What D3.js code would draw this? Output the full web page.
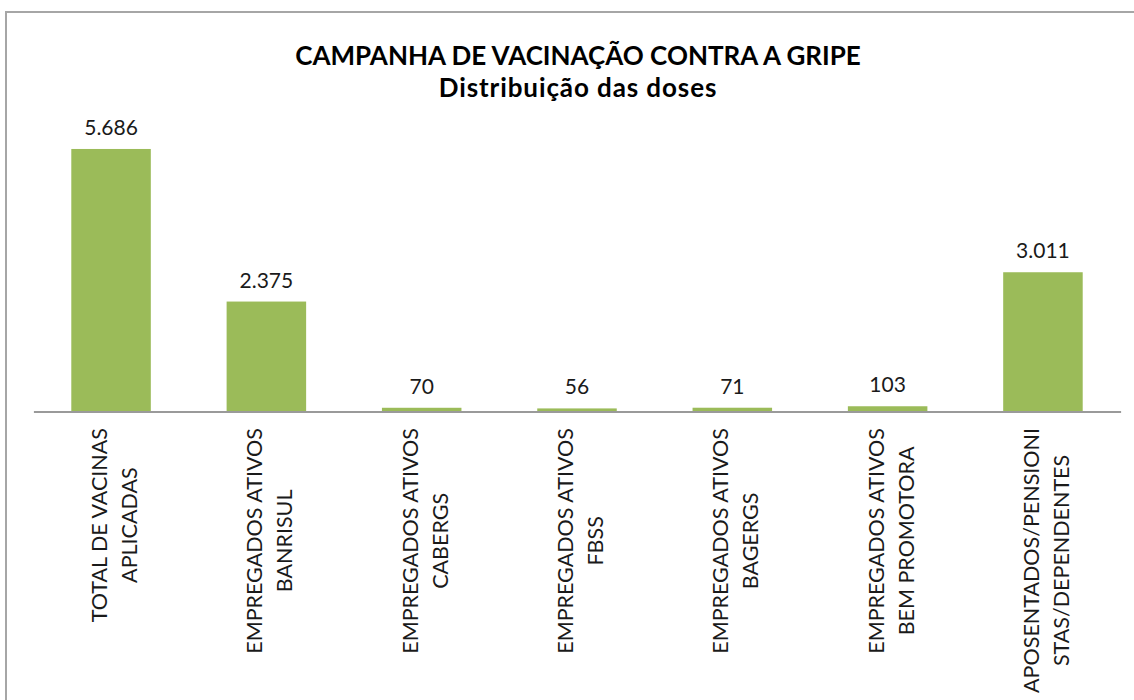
<!DOCTYPE html>
<html><head><meta charset="utf-8">
<script src="https://cdn.jsdelivr.net/npm/d3@7"></script>
<style>html,body{margin:0;padding:0;background:#fff;}svg{display:block;}</style>
</head><body>
<svg id="c" width="1134" height="700"></svg>
<script>
const categories = [
  ["TOTAL DE VACINAS","APLICADAS"],
  ["EMPREGADOS ATIVOS","BANRISUL"],
  ["EMPREGADOS ATIVOS","CABERGS"],
  ["EMPREGADOS ATIVOS","FBSS"],
  ["EMPREGADOS ATIVOS","BAGERGS"],
  ["EMPREGADOS ATIVOS","BEM PROMOTORA"],
  ["APOSENTADOS/PENSIONI","STAS/DEPENDENTES"]
];
const values = [5686, 2375, 70, 56, 71, 103, 3011];
const valueLabels = ["5.686","2.375","70","56","71","103","3.011"];
const titleLines = ["CAMPANHA DE VACINAÇÃO CONTRA A GRIPE","Distribuição das doses"];

const FONT = "Lato, 'Open Sans', sans-serif";
const svg = d3.select("#c");

// chart border
svg.append("rect").attr("x",6).attr("y",12).attr("width",1140).attr("height",700)
  .attr("fill","#fff").attr("stroke","#a6a6a6").attr("stroke-width",2);

const x = d3.scaleBand().domain(d3.range(categories.length))
  .range([33.4, 1120.6]).paddingInner(0.488).paddingOuter(0.244);
const y = d3.scaleLinear().domain([0, 6000]).range([411, 134.5]);

// title
svg.append("text").attr("x",578).attr("y",65).attr("text-anchor","middle")
  .attr("font-family",FONT).attr("font-weight","bold").attr("font-size",26)
  .attr("fill","#000").text(titleLines[0]);
svg.append("text").attr("x",578).attr("y",97).attr("text-anchor","middle")
  .attr("font-family",FONT).attr("font-weight","bold").attr("font-size",26)
  .attr("letter-spacing",0.9)
  .attr("fill","#000").text(titleLines[1]);

// bars
svg.append("g").selectAll("rect").data(values).join("rect")
  .attr("x",(d,i)=>x(i)).attr("width",x.bandwidth())
  .attr("y",d=>y(d)).attr("height",d=>y(0)-y(d))
  .attr("fill","#9bbb59");

// baseline axis
const axis = d3.axisBottom(x).tickSize(0).tickFormat("");
const ag = svg.append("g").attr("transform",`translate(0,${y(0)+0.5})`).call(axis);
ag.select(".domain").attr("stroke","#9a9a9a").attr("stroke-width",2);

// value labels
svg.append("g").selectAll("text").data(values).join("text")
  .attr("x",(d,i)=>x(i)+x.bandwidth()/2).attr("y",d=>y(d)-14)
  .attr("text-anchor","middle").attr("font-family",FONT).attr("font-size",21)
  .attr("fill","#1a1a1a").text((d,i)=>valueLabels[i]);

// category labels (rotated)
const catG = svg.append("g");
categories.forEach((lines,i)=>{
  const cx = x(i)+x.bandwidth()/2;
  const g = catG.append("g");
  const texts = lines.map((t,j)=>g.append("text")
    .attr("font-family",FONT).attr("font-size",21.5).attr("fill","#1a1a1a")
    .attr("text-anchor","middle").text(t));
  const maxLen = d3.max(texts, t=>t.node().getComputedTextLength());
  const cy = 428 + maxLen/2;
  const offs = [-4, 26];
  texts.forEach((t,j)=>{
    t.attr("transform",`translate(${cx+offs[j]},${cy}) rotate(-90)`);
  });
});
</script>
</body></html>
